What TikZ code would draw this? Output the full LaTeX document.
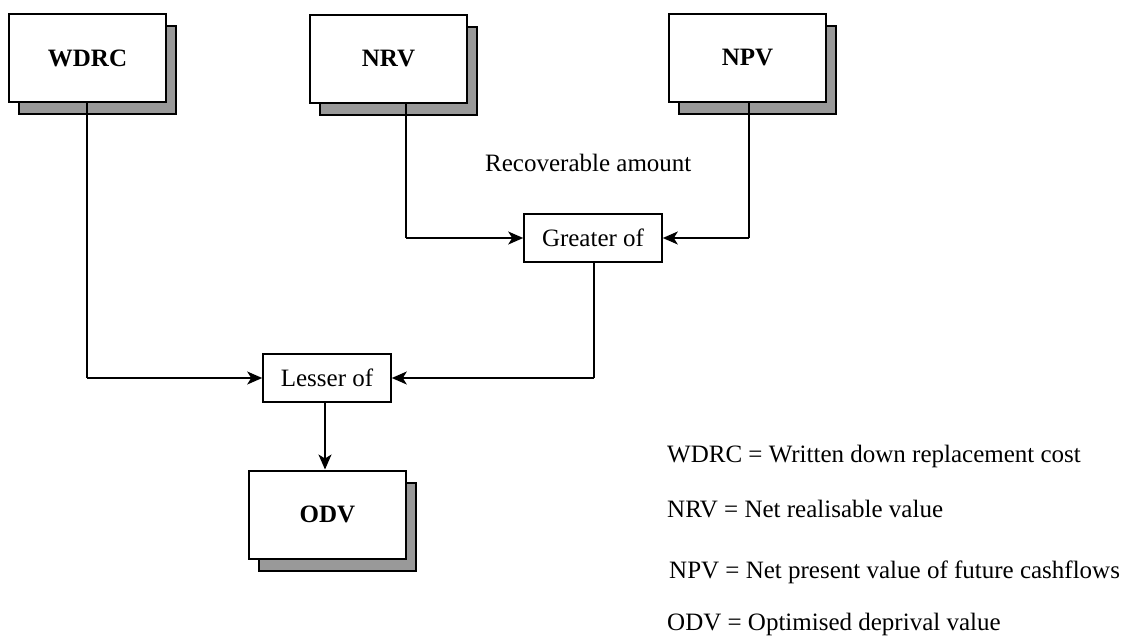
\documentclass[tikz,border=0pt]{standalone}
\usepackage{fontspec}
\setmainfont{Liberation Serif}
\usetikzlibrary{arrows.meta,shadows}
\definecolor{shadowgray}{RGB}{153,153,153}
\begin{document}
\begin{tikzpicture}[x=1pt,y=-1pt,
  every node/.style={font=\fontsize{25}{30}\selectfont},
  valuebox/.style={draw=black,line width=2pt,fill=white,inner sep=0pt,
    minimum width=157pt,minimum height=88pt,font=\fontsize{25}{30}\selectfont\bfseries,
    copy shadow={shadow xshift=9.5pt,shadow yshift=-12pt,fill=shadowgray,draw=black,line width=2pt}},
  choicebox/.style={draw=black,line width=1.6pt,fill=white,inner sep=0pt,
    minimum height=48pt},
  link/.style={line width=1.6pt,-{Stealth[length=15pt,width=13pt,inset=4pt]}},
  plain/.style={line width=1.6pt},
  legend/.style={anchor=base west,inner sep=0pt}]
\useasboundingbox (0,0) rectangle (1131,640);

% source values
\node[valuebox] (wdrc) at (87.5,58) {WDRC};
\node[valuebox] (nrv) at (388.5,59) {NRV};
\node[valuebox] (npv) at (747.5,58) {NPV};

% comparison steps
\node[choicebox,minimum width=138pt] (greater) at (593,238) {Greater of};
\node[choicebox,minimum width=128pt] (lesser) at (327,378) {Lesser of};

% result
\node[valuebox] (odv) at (327.5,514.5) {ODV};

\node[legend] (rec) at (485,171) {Recoverable amount};

% connectors
\coordinate (nrvcorner) at (406,238);
\coordinate (npvcorner) at (749,238);
\coordinate (wdrccorner) at (87,378);
\coordinate (grcorner) at (594,378);
\draw[plain] (406,0 |- nrv.south) -- (nrvcorner);
\draw[link] (nrvcorner) -- (greater.west);
\draw[plain] (749,0 |- npv.south) -- (npvcorner);
\draw[link] (npvcorner) -- (greater.east);
\draw[plain] (87,0 |- wdrc.south) -- (wdrccorner);
\draw[link] (wdrccorner) -- (lesser.west);
\draw[plain] (594,0 |- greater.south) -- (grcorner);
\draw[link] (grcorner) -- (lesser.east);
\draw[link] (325,0 |- lesser.south) -- (325,0 |- odv.north);

% legend
\node[legend] (l1) at (667,462) {WDRC = Written down replacement cost};
\node[legend] (l2) at (667,517) {NRV = Net realisable value};
\node[legend] (l3) at (669,578) {NPV = Net present value of future cashflows};
\node[legend] (l4) at (667,630) {ODV = Optimised deprival value};
\end{tikzpicture}
\end{document}
